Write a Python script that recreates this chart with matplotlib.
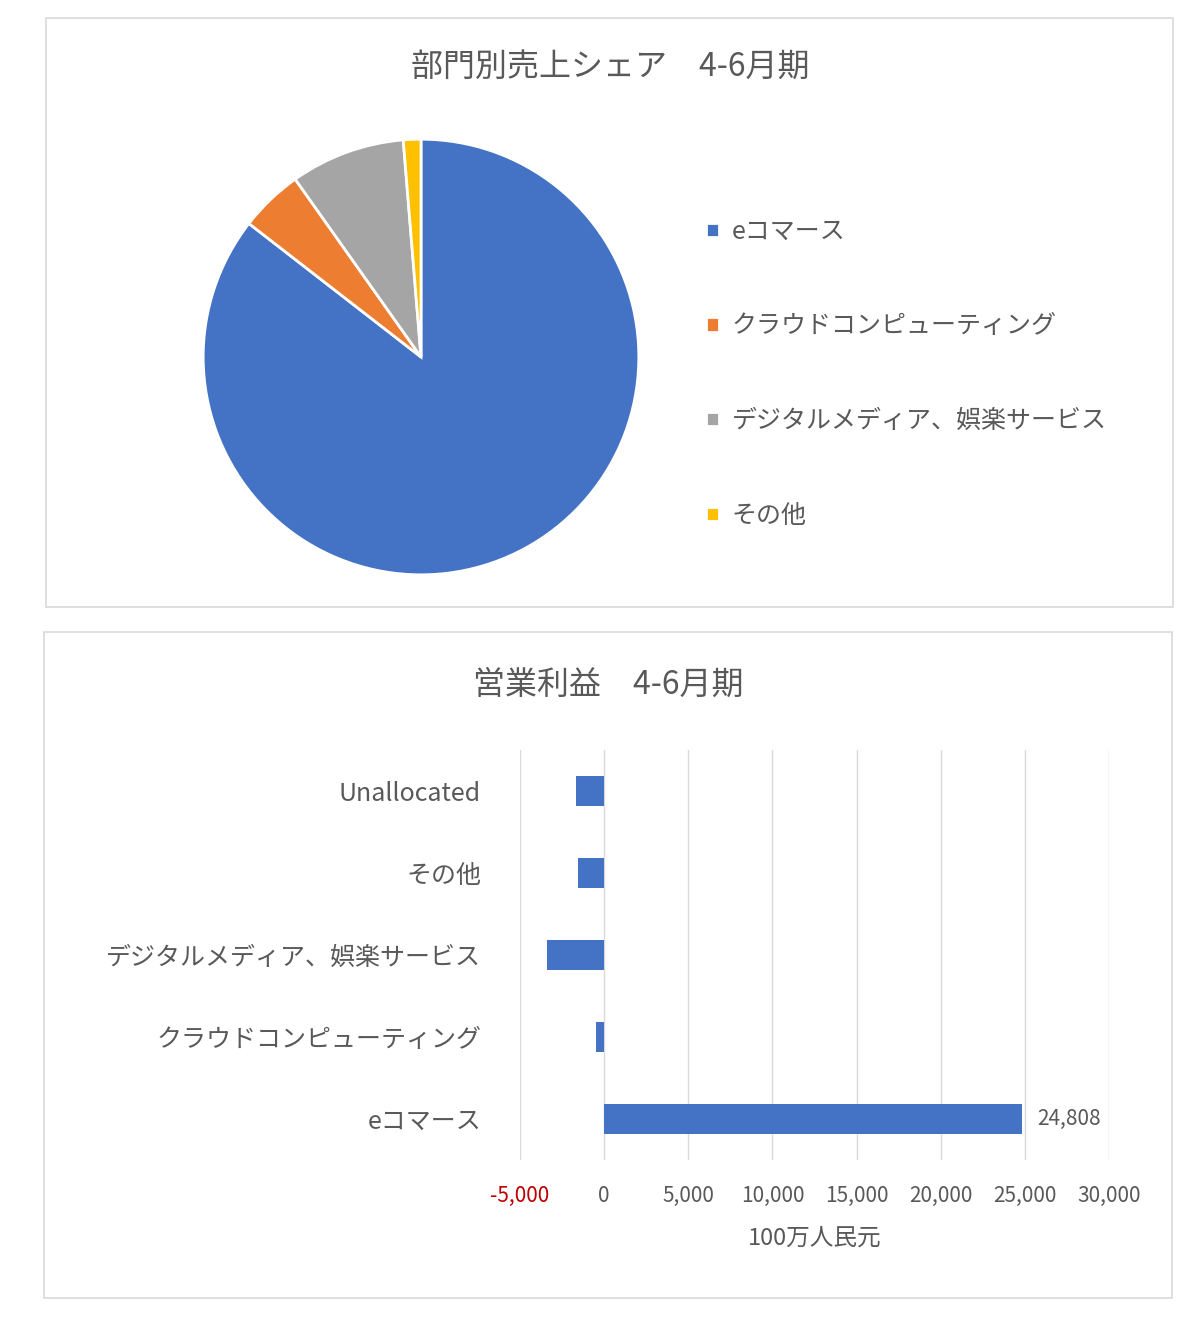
import matplotlib
matplotlib.use("Agg")
import matplotlib.pyplot as plt
from matplotlib.patches import Rectangle

plt.rcParams['font.family'] = ['Noto Sans CJK JP', 'DejaVu Sans']

# pie data (share, %)
segments = ["eコマース", "クラウドコンピューティング", "デジタルメディア、娯楽サービス", "その他"]
shares = [85.5, 4.7, 8.5, 1.3]
pie_colors = ["#4472C4", "#ED7D31", "#A5A5A5", "#FFC000"]

# bar data (100万人民元)
bar_labels = ["eコマース", "クラウドコンピューティング", "デジタルメディア、娯楽サービス", "その他", "Unallocated"]
profits = [24808, -480, -3390, -1550, -1670]
xticks = [-5000, 0, 5000, 10000, 15000, 20000, 25000, 30000]

TXT = "#595959"
fig = plt.figure(figsize=(12, 13.36), dpi=100)
H = 1336

# panel borders
for (x0, y0, x1, y1) in [(46, 18, 1173, 607), (44, 632, 1172, 1298)]:
    fig.patches.append(Rectangle((x0 / 1200, 1 - y1 / H), (x1 - x0) / 1200, (y1 - y0) / H,
                                 transform=fig.transFigure, fill=False, ec="#D9D9D9", lw=1.2))

fig.text(610 / 1200, 1 - 68 / H, "部門別売上シェア　4-6月期", ha="center", va="center", fontsize=23, color=TXT)
fig.text(608 / 1200, 1 - 685 / H, "営業利益　4-6月期", ha="center", va="center", fontsize=23, color=TXT)

# pie
ax = fig.add_axes([201 / 1200, 1 - 577 / H, 440 / 1200, 440 / H])
wedges, _ = ax.pie(shares, colors=pie_colors, startangle=90, counterclock=False,
                   wedgeprops=dict(edgecolor="white", linewidth=2))
ax.set_xlim(-1.01, 1.01)
ax.set_ylim(-1.01, 1.01)
ax.set_aspect("equal")
fig.legend(wedges, segments, loc="upper left", bbox_to_anchor=(684 / 1200, 1 - 196 / H),
           frameon=False, fontsize=18, labelspacing=2.75, handlelength=0.5, handleheight=0.5,
           handletextpad=0.5, labelcolor=TXT)

# bars
bx = fig.add_axes([520 / 1200, 1 - 1160 / H, 589 / 1200, 410 / H])
ypos = range(len(bar_labels))
bx.barh(ypos, profits, height=0.36, color="#4472C4", zorder=3)
bx.set_xlim(-5000, 30000)
bx.set_ylim(-0.5, len(bar_labels) - 0.5)
bx.set_yticks(list(ypos))
bx.set_yticklabels(bar_labels, fontsize=18, color=TXT)
bx.set_xticks(xticks)
bx.set_xticklabels([f"{v:,}" for v in xticks], fontsize=15, color=TXT)
bx.get_xticklabels()[0].set_color("#C00000")
bx.tick_params(length=0, pad=18)
bx.tick_params(axis="y", pad=28)
bx.grid(axis="x", color="#D9D9D9", lw=1, zorder=0)
for s in bx.spines.values():
    s.set_visible(False)
bx.set_xlabel("100万人民元", fontsize=17, color=TXT, labelpad=14)
bx.text(profits[0] + 900, 0, f"{profits[0]:,}", va="center", fontsize=15, color=TXT)

fig.savefig("out.png", dpi=100, facecolor="white")
